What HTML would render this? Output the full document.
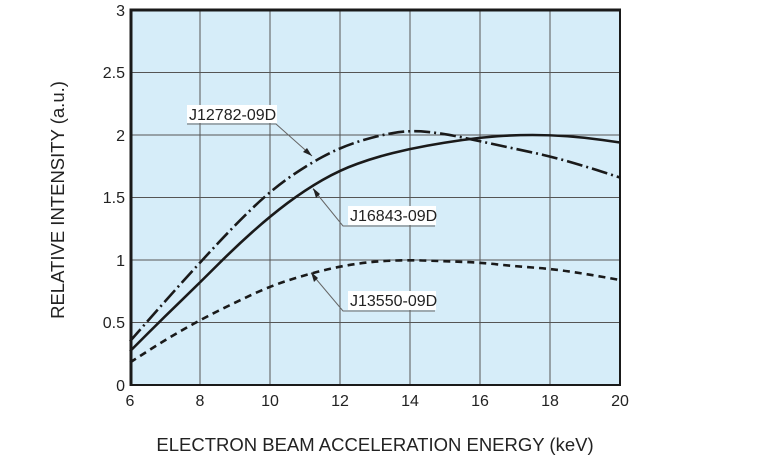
<!DOCTYPE html>
<html><head><style>body{margin:0;background:#fff}svg{display:block}</style></head><body>
<svg width="768" height="461" xmlns="http://www.w3.org/2000/svg" font-family="Liberation Sans, sans-serif">
<rect x="130" y="10" width="490" height="375" fill="#d6edf9"/>
<g stroke="#555" stroke-width="1">
<line x1="200" y1="10" x2="200" y2="385"/><line x1="270" y1="10" x2="270" y2="385"/><line x1="340" y1="10" x2="340" y2="385"/><line x1="410" y1="10" x2="410" y2="385"/><line x1="480" y1="10" x2="480" y2="385"/><line x1="550" y1="10" x2="550" y2="385"/>
<line x1="130" y1="72.5" x2="620" y2="72.5"/><line x1="130" y1="135" x2="620" y2="135"/><line x1="130" y1="197.5" x2="620" y2="197.5"/><line x1="130" y1="260" x2="620" y2="260"/><line x1="130" y1="322.5" x2="620" y2="322.5"/>
</g>
<g fill="none" stroke="#1a1a1a" stroke-width="2.6" stroke-linejoin="round">
<path d="M130,351.25 L147.5,333.75 Q165,316.25 182.5,299.4 Q200,282.5 217.5,265 Q235,247.5 252.5,231.9 Q270,216.25 287.5,203.1 Q305,190 322.5,180 Q340,170 357.5,163.75 Q375,157.5 392.5,153.1 Q410,148.75 427.5,145.6 Q445,142.5 462.5,140 Q480,137.5 497.5,136.25 Q515,135 532.5,135 Q550,135 567.5,136.25 Q585,137.5 602.5,140 L620,142.5"/>
<path d="M130,341.25 L147.5,321.25 Q165,301.25 182.5,281.9 Q200,262.5 217.5,243.75 Q235,225 252.5,208.1 Q270,191.25 287.5,178.75 Q305,166.25 322.5,156.9 Q340,147.5 357.5,141.9 Q375,136.25 392.5,133.1 Q410,130 427.5,131.9 Q445,133.75 462.5,137.5 Q480,141.25 497.5,145 Q515,148.75 532.5,152.5 Q550,156.25 567.5,161.25 Q585,166.25 602.5,171.9 L620,177.5" stroke-dasharray="16,4,2,4"/>
<path d="M130,362.5 L147.5,351.25 Q165,340 182.5,330 Q200,320 217.5,311.25 Q235,302.5 252.5,294.4 Q270,286.25 287.5,280.6 Q305,275 322.5,270.6 Q340,266.25 357.5,263.75 Q375,261.25 392.5,260.6 Q410,260 427.5,260.6 Q445,261.25 462.5,261.9 Q480,262.5 497.5,264.4 Q515,266.25 532.5,267.5 Q550,268.75 567.5,271.25 Q585,273.75 602.5,276.9 L620,280" stroke-dasharray="7,5"/>
</g>
<g fill="none" stroke="#666" stroke-width="1">
<polyline points="187,124 276,124 312,156"/>
<polyline points="313,189 343,226 435,226"/>
<polyline points="311,273 343,311 435,311"/>
</g>
<g fill="#222"><polygon points="312,156 303,152 307,148"/><polygon points="313,188 316,198 320,194"/><polygon points="311,272 314,282 318,278"/></g>
<g font-size="16" fill="#222">
<rect x="187" y="105" width="90" height="18" fill="#fff"/><text x="189" y="120">J12782-09D</text>
<rect x="348" y="206" width="88" height="19" fill="#fff"/><text x="350" y="221">J16843-09D</text>
<rect x="348" y="291" width="88" height="19" fill="#fff"/><text x="350" y="306">J13550-09D</text>
</g>
<line x1="131" y1="8.5" x2="131" y2="386" stroke="#1a1a1a" stroke-width="3"/>
<line x1="129.5" y1="10" x2="621" y2="10" stroke="#1a1a1a" stroke-width="3"/>
<line x1="620" y1="9" x2="620" y2="386" stroke="#1a1a1a" stroke-width="2"/>
<line x1="130" y1="385" x2="621" y2="385" stroke="#1a1a1a" stroke-width="2"/>
<g font-size="16" fill="#222" text-anchor="end">
<text x="125" y="16">3</text><text x="125" y="78">2.5</text><text x="125" y="141">2</text><text x="125" y="203">1.5</text><text x="125" y="266">1</text><text x="125" y="328">0.5</text><text x="125" y="391">0</text>
</g>
<g font-size="16" fill="#222" text-anchor="middle">
<text x="130" y="406">6</text><text x="200" y="406">8</text><text x="270" y="406">10</text><text x="340" y="406">12</text><text x="410" y="406">14</text><text x="480" y="406">16</text><text x="550" y="406">18</text><text x="620" y="406">20</text>
<text x="375" y="451" font-size="18.5">ELECTRON BEAM ACCELERATION ENERGY (keV)</text>
<text transform="translate(64,200) rotate(-90)" font-size="18.5">RELATIVE INTENSITY (a.u.)</text>
</g>
</svg>
</body></html>
